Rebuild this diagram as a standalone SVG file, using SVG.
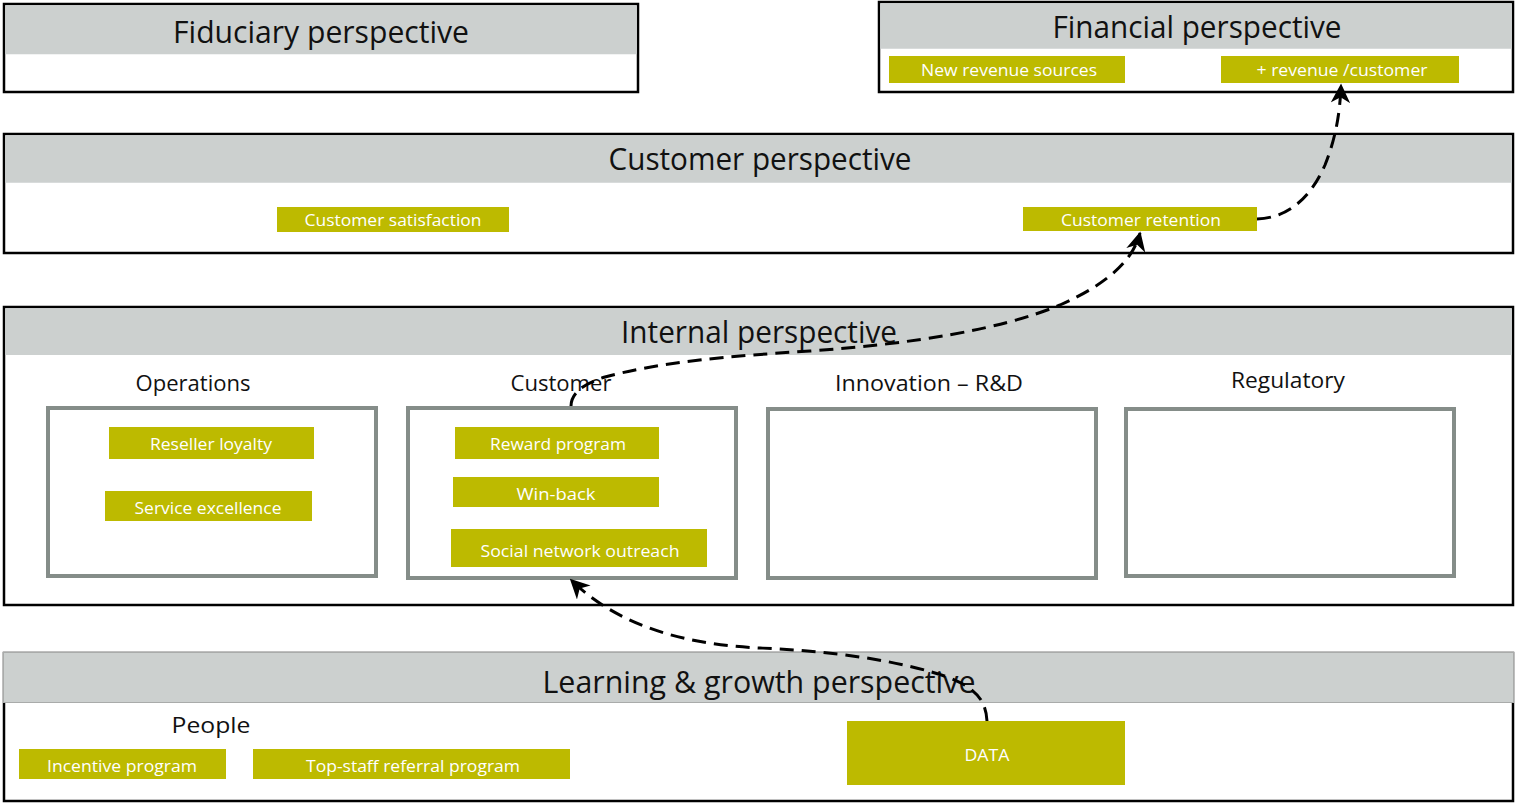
<svg xmlns="http://www.w3.org/2000/svg" width="1515" height="803" viewBox="0 0 1515 803">
<defs>
<style>
.panel{fill:#FFFFFF;stroke:#000000;stroke-width:2.5}
.hdr{fill:#CCD0CF}
.title{font-family:"Open Sans","Noto Sans",sans-serif;font-size:31px;fill:#111111;text-anchor:middle}
.sub{font-family:"Open Sans","Noto Sans",sans-serif;font-size:21px;fill:#111111;text-anchor:middle}
.inner{fill:#FFFFFF;stroke:#858D89;stroke-width:4}
.kpi{fill:#BDBA00}
.kt{font-family:"Open Sans","Noto Sans",sans-serif;font-size:16px;fill:#FFFFFF;text-anchor:middle}
.conn{fill:none;stroke:#000000;stroke-width:3;stroke-dasharray:14 8}
</style>
<marker id="arr" viewBox="0 0 12 12" refX="11" refY="6" markerWidth="6.5" markerHeight="6.5" orient="auto" markerUnits="strokeWidth">
<path d="M0,0 L12,6 L0,12 L3.5,6 z" fill="#000000"/>
</marker>
</defs>

<g id="fiduciary">
<rect class="panel" x="4" y="4" width="634" height="88"/>
<rect class="hdr" x="5.25" y="5.25" width="631.5" height="49"/>
<text class="title" x="321" y="43" textLength="296" lengthAdjust="spacingAndGlyphs">Fiduciary perspective</text>
</g>

<g id="financial">
<rect class="panel" x="879" y="2" width="634" height="90"/>
<rect class="hdr" x="880.25" y="3.25" width="631.5" height="45.5"/>
<text class="title" x="1197" y="38" textLength="289" lengthAdjust="spacingAndGlyphs">Financial perspective</text>
<g id="new-revenue-sources">
<rect class="kpi" x="889" y="56" width="236" height="27"/>
<text class="kt" x="1009" y="76" textLength="176" lengthAdjust="spacingAndGlyphs">New revenue sources</text>
</g>
<g id="revenue-per-customer">
<rect class="kpi" x="1221" y="56" width="238" height="27"/>
<text class="kt" x="1342" y="76" textLength="171" lengthAdjust="spacingAndGlyphs">+ revenue /customer</text>
</g>
</g>

<g id="customer">
<rect class="panel" x="4" y="134" width="1509" height="119"/>
<rect class="hdr" x="5.25" y="135.25" width="1506.5" height="47.5"/>
<text class="title" x="760" y="170" textLength="303" lengthAdjust="spacingAndGlyphs">Customer perspective</text>
<g id="customer-satisfaction">
<rect class="kpi" x="277" y="207" width="232" height="25"/>
<text class="kt" x="393" y="226" textLength="177" lengthAdjust="spacingAndGlyphs">Customer satisfaction</text>
</g>
<g id="customer-retention">
<rect class="kpi" x="1023" y="207" width="234" height="24"/>
<text class="kt" x="1141" y="226" textLength="160" lengthAdjust="spacingAndGlyphs">Customer retention</text>
</g>
</g>

<g id="internal">
<rect class="panel" x="4" y="307" width="1509" height="298"/>
<rect class="hdr" x="5.25" y="308.25" width="1506.5" height="46.75"/>
<text class="title" x="759" y="343" textLength="276" lengthAdjust="spacingAndGlyphs">Internal perspective</text>
<g id="operations">
<text class="sub" x="193" y="391" textLength="115" lengthAdjust="spacingAndGlyphs">Operations</text>
<rect class="inner" x="48" y="408" width="328" height="168"/>
<g id="reseller-loyalty">
<rect class="kpi" x="109" y="427" width="205" height="32"/>
<text class="kt" x="211" y="450" textLength="122" lengthAdjust="spacingAndGlyphs">Reseller loyalty</text>
</g>
<g id="service-excellence">
<rect class="kpi" x="105" y="491" width="207" height="30"/>
<text class="kt" x="208" y="514" textLength="147" lengthAdjust="spacingAndGlyphs">Service excellence</text>
</g>
</g>
<g id="customer-internal">
<text class="sub" x="561" y="391" textLength="101" lengthAdjust="spacingAndGlyphs">Customer</text>
<rect class="inner" x="408" y="408" width="328" height="170"/>
<g id="reward-program">
<rect class="kpi" x="455" y="427" width="204" height="32"/>
<text class="kt" x="558" y="450" textLength="136" lengthAdjust="spacingAndGlyphs">Reward program</text>
</g>
<g id="win-back">
<rect class="kpi" x="453" y="477" width="206" height="30"/>
<text class="kt" x="556" y="500" textLength="79" lengthAdjust="spacingAndGlyphs">Win-back</text>
</g>
<g id="social-network-outreach">
<rect class="kpi" x="451" y="529" width="256" height="38"/>
<text class="kt" x="580" y="557" textLength="199" lengthAdjust="spacingAndGlyphs">Social network outreach</text>
</g>
</g>
<g id="innovation">
<text class="sub" x="929" y="391" textLength="188" lengthAdjust="spacingAndGlyphs">Innovation – R&amp;D</text>
<rect class="inner" x="768" y="409" width="328" height="169"/>
</g>
<g id="regulatory">
<text class="sub" x="1288" y="388" textLength="114" lengthAdjust="spacingAndGlyphs">Regulatory</text>
<rect class="inner" x="1126" y="409" width="328" height="167"/>
</g>
</g>

<g id="learning">
<rect class="panel" x="4" y="653" width="1509" height="148"/>
<rect class="hdr" x="3.5" y="652.5" width="1510" height="50" stroke="#A9ABAA" stroke-width="1"/>
<text class="title" x="759" y="693" textLength="433" lengthAdjust="spacingAndGlyphs">Learning &amp; growth perspective</text>
<text class="sub" x="211" y="733" textLength="79" lengthAdjust="spacingAndGlyphs">People</text>
<g id="incentive-program">
<rect class="kpi" x="19" y="749" width="207" height="30"/>
<text class="kt" x="122" y="772" textLength="150" lengthAdjust="spacingAndGlyphs">Incentive program</text>
</g>
<g id="top-staff-referral">
<rect class="kpi" x="253" y="749" width="317" height="30"/>
<text class="kt" x="413" y="772" textLength="214" lengthAdjust="spacingAndGlyphs">Top-staff referral program</text>
</g>
<g id="data">
<rect class="kpi" x="847" y="721" width="278" height="64"/>
<text class="kt" x="987" y="761" textLength="45" lengthAdjust="spacingAndGlyphs">DATA</text>
</g>
</g>

<g id="connectors">
<path class="conn" marker-end="url(#arr)" d="M987,721 C986,700 975,688 950,678 C900,660 830,651 760,648 C690,645 620,628 571,580"/>
<path class="conn" marker-end="url(#arr)" d="M571,406 C571,394 582,384 605,377 C660,362 730,356 810,351 C910,344 1000,330 1060,305 C1110,283 1134,258 1140,233"/>
<path class="conn" marker-end="url(#arr)" d="M1257,219 C1290,218 1312,195 1325,165 C1335,140 1340,115 1341,85"/>
</g>
</svg>
